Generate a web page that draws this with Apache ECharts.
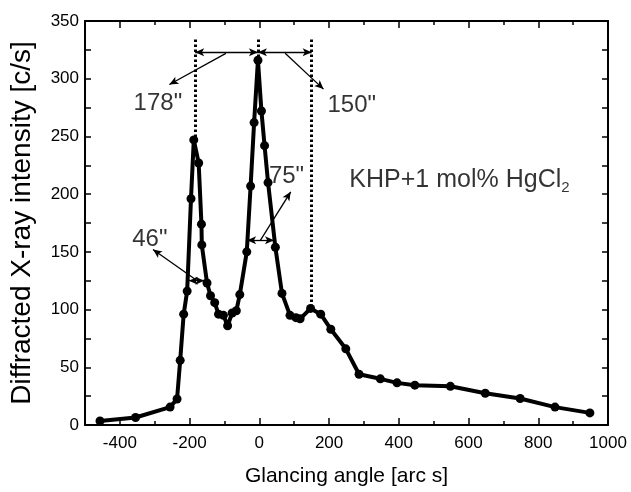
<!DOCTYPE html>
<html><head><meta charset="utf-8">
<script src="https://cdn.jsdelivr.net/npm/echarts@6/dist/echarts.min.js"></script>
<style>html,body{margin:0;padding:0;background:#fff}#c{width:631px;height:492px}</style>
</head><body><div id="c"></div>
<script>
// ---- data ----
const angles = [-457,-355,-256,-236,-227,-217,-207,-196,-188,-174,-166,-165,-150,-140,-128,-117,-103,-91,-78,-66,-56,-36,-25,-15,-4,6,15,25,46,65,88,105,117,147,176,205,248,286,347,395,446,548,648,748,848,948];
const intensity = [3.5,6.5,15.5,22.5,56,96,116,196,247,227,174,156,123,112,106,96,95,86,97,99,113,150,207,262,316,272,242,210,154,114,95,93,92,101,96,83,66,44,40,36.5,34.5,33.5,27.5,23,15.5,10.5];
const xMajorTicks = [-400,-200,0,200,400,600,800,1000];
const xMinorTicks = [-500,-300,-100,100,300,500,700,900];
const xTitle = 'Glancing angle [arc s]';
const yTitle = 'Diffracted X-ray intensity [c/s]';
// dotted vertical lines
const dottedX = [-184, -4, 150];
const dottedBottom = [247, 316, 104];
const dottedTop = 334;
// FWHM double arrows: [x1, x2, y]
const widthArrows = [[-184,-4,323],[-4,150,323],[-202,-158,125],[-35,42,160]];
// leader lines: [xFrom, yFrom, xTo, yTo]
const leaders = [[-96,322,-258,295],[74,322,184,291],[-178,125,-305,152],[3,160,90,202]];
// labels
const labelTexts = ['178"','150"','46"','75"'];
const labelX = [-291, 265, -314, 78];
const labelY = [279, 277, 161, 215];
const sampleText = 'KHP+1 mol% HgCl{sub|2}';
const sampleX = 574, sampleY = 212;

const FONT = '"Liberation Sans", Arial, sans-serif';
const chart = echarts.init(document.getElementById('c'), null, {renderer:'canvas'});

const baseX = {type:'value', min:-500, max:1000, splitLine:{show:false}};
const baseY = {type:'value', min:0, max:350, interval:25, splitLine:{show:false}};
const axisLine = {show:true, onZero:false, lineStyle:{color:'#000', width:2}};
const noLine = {show:false, onZero:false};

const option = {
  animation:false,
  backgroundColor:'#fff',
  grid:{left:82, right:23, top:21, bottom:64},
  xAxis:[
    Object.assign({}, baseX, {position:'bottom', axisLine,
      axisTick:{show:true, inside:true, length:7, lineStyle:{color:'#000', width:1.5}, customValues:xMajorTicks},
      axisLabel:{show:true, customValues:xMajorTicks, color:'#000', fontSize:17, fontFamily:FONT, margin:10,
        formatter:v => String(v)},
      name:xTitle, nameLocation:'middle', nameGap:41, nameTextStyle:{color:'#000', fontSize:21, fontFamily:FONT}}),
    Object.assign({}, baseX, {position:'bottom', axisLine:noLine,
      axisTick:{show:true, inside:true, length:4, lineStyle:{color:'#000', width:1.5}, customValues:xMinorTicks},
      axisLabel:{show:false}}),
    Object.assign({}, baseX, {position:'top', axisLine,
      axisTick:{show:true, inside:true, length:7, lineStyle:{color:'#000', width:1.5}, customValues:xMajorTicks},
      axisLabel:{show:false}}),
    Object.assign({}, baseX, {position:'top', axisLine:noLine,
      axisTick:{show:true, inside:true, length:4, lineStyle:{color:'#000', width:1.5}, customValues:xMinorTicks},
      axisLabel:{show:false}})
  ],
  yAxis:[
    Object.assign({}, baseY, {position:'left', axisLine,
      axisTick:{show:true, inside:true, length:6, lineStyle:{color:'#000', width:1.5}},
      axisLabel:{show:true, color:'#000', fontSize:17, fontFamily:FONT, margin:6,
        formatter:v => (v % 50 === 0 ? String(v) : '')},
      name:yTitle, nameLocation:'middle', nameGap:49, nameRotate:90,
      nameTextStyle:{color:'#000', fontSize:28, fontFamily:FONT}}),
    Object.assign({}, baseY, {position:'right', axisLine,
      axisTick:{show:true, inside:true, length:6, lineStyle:{color:'#000', width:1.5}},
      axisLabel:{show:false}})
  ],
  series:[
    {
      type:'line', xAxisIndex:0, yAxisIndex:0, z:5,
      data: angles.map((a,i)=>[a, intensity[i]]),
      symbol:'circle', symbolSize:9, showSymbol:true,
      lineStyle:{color:'#000', width:4}, itemStyle:{color:'#000'},
      markLine:{
        silent:true, symbol:['none','none'], label:{show:false},
        lineStyle:{color:'#000', width:3, type:[2.5,2.5], opacity:1},
        data: dottedX.map((x,i)=>[{coord:[x, dottedTop]},{coord:[x, dottedBottom[i]]}])
      }
    },
    {
      type:'line', xAxisIndex:0, yAxisIndex:0, data:[], z:6,
      markLine:{
        silent:true, symbol:['arrow','arrow'], symbolSize:[6,9], label:{show:false},
        lineStyle:{color:'#000', width:1.3, type:'solid', opacity:1},
        data: widthArrows.map(w=>[{coord:[w[0], w[2]]},{coord:[w[1], w[2]]}])
      }
    },
    {
      type:'line', xAxisIndex:0, yAxisIndex:0, data:[], z:6,
      markLine:{
        silent:true, symbol:['none','arrow'], symbolSize:[6,9], label:{show:false},
        lineStyle:{color:'#000', width:1.3, type:'solid', opacity:1},
        data: leaders.map(l=>[{coord:[l[0], l[1]]},{coord:[l[2], l[3]]}])
      }
    },
    {
      type:'scatter', xAxisIndex:0, yAxisIndex:0, z:7, symbolSize:0,
      itemStyle:{color:'#000'},
      data: labelTexts.map((t,i)=>({name:t, value:[labelX[i], labelY[i]]})),
      label:{show:true, position:[0,0], align:'center', verticalAlign:'middle', formatter:'{b}',
        color:'#000', fontSize:24, fontFamily:FONT}
    },
    {
      type:'scatter', xAxisIndex:0, yAxisIndex:0, z:7, symbolSize:0,
      itemStyle:{color:'#000'},
      data:[{name:'sample', value:[sampleX, sampleY]}],
      label:{show:true, position:[0,0], align:'center', verticalAlign:'middle', formatter:sampleText,
        color:'#000', fontSize:25, fontFamily:FONT,
        rich:{sub:{fontSize:15, fontFamily:FONT, color:'#000', padding:[16,0,0,0]}}}
    }
  ]
};
chart.setOption(option);
</script></body></html>
